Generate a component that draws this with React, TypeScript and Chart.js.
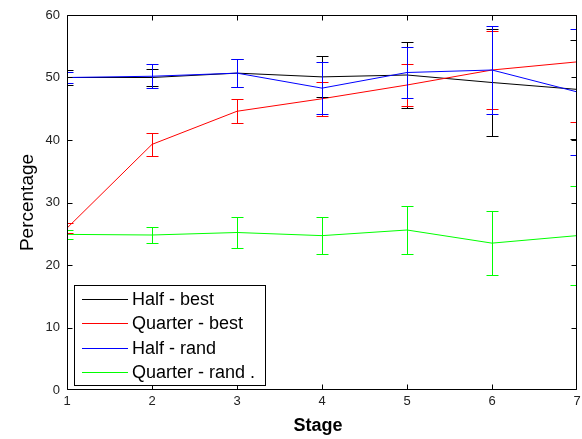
import React, { useEffect, useRef } from 'react';
import { Chart, registerables } from 'chart.js';

Chart.register(...registerables);

// ---- data ----
const stages = [1, 2, 3, 4, 5, 6, 7];
const seriesLabels = ['Half - best', 'Quarter - best', 'Half - rand', 'Quarter - rand .'];
const seriesColors = ['#000000', '#ff0000', '#0000ff', '#00ff00'];

const halfBest = [50.0, 50.0, 50.7, 50.1, 50.4, 49.2, 48.1];
const halfBestErr = [1.2, 1.4, 2.3, 3.3, 5.3, 8.5, 7.9];

const quarterBest = [25.9, 39.3, 44.6, 46.6, 48.8, 51.2, 52.5];
const quarterBestErr = [0.8, 1.8, 1.9, 2.7, 3.3, 6.2, 9.6];

const halfRand = [50.0, 50.2, 50.7, 48.3, 50.8, 51.2, 47.7];
const halfRandErr = [0.9, 1.9, 2.3, 4.2, 4.1, 7.1, 10.1];

const quarterRand = [24.9, 24.8, 25.2, 24.7, 25.6, 23.5, 24.7];
const quarterRandErr = [0.7, 1.35, 2.45, 2.95, 3.8, 5.1, 7.9];

const yTicks = [0, 10, 20, 30, 40, 50, 60];
const xTicks = stages;
const xTitle = 'Stage';
const yTitle = 'Percentage';

const FONT = '"Liberation Sans", Arial, Helvetica, sans-serif';

const seriesValues = [halfBest, quarterBest, halfRand, quarterRand];
const seriesErrors = [halfBestErr, quarterBestErr, halfRandErr, quarterRandErr];

const errorBarPlugin = {
  id: 'errorBars',
  afterDatasetsDraw(chart: any) {
    const { ctx, chartArea } = chart;
    const xs = chart.scales.x;
    const ys = chart.scales.y;
    ctx.save();
    ctx.beginPath();
    ctx.rect(chartArea.left, chartArea.top, chartArea.right - chartArea.left, chartArea.bottom - chartArea.top);
    ctx.clip();
    ctx.lineWidth = 1;
    // draw in series order so later series sit on top
    chart.data.datasets.forEach((ds: any) => {
      const errs: number[] = ds.errors;
      if (!errs) return;
      ctx.strokeStyle = ds.borderColor;
      ds.data.forEach((p: any, i: number) => {
        let x = Math.round(xs.getPixelForValue(p.x)) + 0.5;
        if (x > chartArea.right) x = chartArea.right - 0.5;
        const yt = Math.round(ys.getPixelForValue(p.y + errs[i])) + 0.5;
        const yb = Math.round(ys.getPixelForValue(p.y - errs[i])) + 0.5;
        const hw = 6;
        ctx.beginPath();
        ctx.moveTo(x, yt);
        ctx.lineTo(x, yb);
        ctx.moveTo(x - hw, yt);
        ctx.lineTo(x + hw, yt);
        ctx.moveTo(x - hw, yb);
        ctx.lineTo(x + hw, yb);
        ctx.stroke();
      });
    });
    ctx.restore();
  },
};

const framePlugin = {
  id: 'frame',
  afterDraw(chart: any) {
    const { ctx, chartArea } = chart;
    const { left, right, top, bottom } = chartArea;
    const xs = chart.scales.x;
    const ys = chart.scales.y;
    ctx.save();
    ctx.strokeStyle = '#000';
    ctx.lineWidth = 1;
    const L = Math.round(left) + 0.5;
    const R = Math.round(right) - 0.5;
    const T = Math.round(top) + 0.5;
    const B = Math.round(bottom) - 0.5;
    ctx.beginPath();
    ctx.rect(L, T, R - L, B - T);
    const tl = 5;
    xTicks.forEach((v) => {
      let x = Math.round(xs.getPixelForValue(v)) + 0.5;
      if (x > R) x = R;
      ctx.moveTo(x, B);
      ctx.lineTo(x, B - tl);
      ctx.moveTo(x, T);
      ctx.lineTo(x, T + tl);
    });
    yTicks.forEach((v) => {
      let y = Math.round(ys.getPixelForValue(v)) + 0.5;
      if (y > B) y = B;
      ctx.moveTo(L, y);
      ctx.lineTo(L + tl, y);
      ctx.moveTo(R, y);
      ctx.lineTo(R - tl, y);
    });
    ctx.stroke();

    // legend
    const lx = left + 7;
    const ly = bottom - 105;
    const lw = 191;
    const lh = 100;
    ctx.fillStyle = '#fff';
    ctx.fillRect(lx, ly, lw, lh);
    ctx.strokeStyle = '#000';
    ctx.strokeRect(Math.round(lx) + 0.5, Math.round(ly) + 0.5, lw, lh);
    ctx.font = `18px ${FONT}`;
    ctx.textBaseline = 'middle';
    ctx.textAlign = 'left';
    seriesLabels.forEach((lab, i) => {
      const y = Math.round(ly + 14 + i * 24.4) + 0.5;
      ctx.strokeStyle = seriesColors[i];
      ctx.beginPath();
      ctx.moveTo(lx + 8, y);
      ctx.lineTo(lx + 54, y);
      ctx.stroke();
      ctx.fillStyle = '#000';
      ctx.fillText(lab, lx + 58, y + 1);
    });

    // axis titles
    ctx.fillStyle = '#000';
    ctx.font = `bold 18px ${FONT}`;
    ctx.textAlign = 'center';
    ctx.textBaseline = 'alphabetic';
    ctx.fillText(xTitle, (left + right) / 2 - 4, 431);
    ctx.font = `19px ${FONT}`;
    ctx.save();
    ctx.translate(33, (top + bottom) / 2);
    ctx.rotate(-Math.PI / 2);
    ctx.fillText(yTitle, 0, 0);
    ctx.restore();
    ctx.restore();
  },
};

export default function App() {
  const ref = useRef<HTMLCanvasElement | null>(null);
  useEffect(() => {
    document.body.style.margin = '0';
    const canvas = ref.current;
    if (!canvas) return;
    const datasets = seriesLabels.map((label, i) => ({
      label,
      data: stages.map((s, j) => ({ x: s, y: seriesValues[i][j] })),
      errors: seriesErrors[i],
      borderColor: seriesColors[i],
      backgroundColor: seriesColors[i],
      borderWidth: 1,
      pointRadius: 0,
      tension: 0,
      fill: false,
      order: 4 - i,
    }));
    const chart = new Chart(canvas, {
      type: 'line',
      data: { datasets } as any,
      options: {
        animation: false,
        responsive: false,
        maintainAspectRatio: false,
        layout: { padding: { top: 15, right: 5, left: 0, bottom: 0 } },
        plugins: {
          legend: { display: false },
          tooltip: { enabled: false },
        },
        scales: {
          x: {
            type: 'linear',
            min: 1,
            max: 7,
            afterBuildTicks: (s: any) => {
              s.ticks = xTicks.map((v) => ({ value: v }));
            },
            afterFit: (s: any) => {
              s.height = 49;
              s.paddingLeft = 0;
              s.paddingRight = 0;
            },
            grid: { display: false, drawTicks: false },
            border: { display: false },
            ticks: {
              padding: 4,
              color: '#222',
              font: { family: FONT, size: 13 },
              maxRotation: 0,
              autoSkip: false,
            },
          },
          y: {
            type: 'linear',
            min: 0,
            max: 60,
            afterBuildTicks: (s: any) => {
              s.ticks = yTicks.map((v) => ({ value: v }));
            },
            afterFit: (s: any) => {
              s.width = 67;
              s.paddingTop = 0;
              s.paddingBottom = 0;
            },
            grid: { display: false, drawTicks: false },
            border: { display: false },
            ticks: {
              padding: 7,
              color: '#222',
              font: { family: FONT, size: 13 },
            },
          },
        },
      } as any,
      plugins: [errorBarPlugin, framePlugin],
    });
    return () => chart.destroy();
  }, []);
  return (
    <div style={{ position: 'fixed', left: 0, top: 0, width: 582, height: 439, background: '#fff' }}>
      <canvas ref={ref} width={582} height={439} style={{ display: 'block' }} />
    </div>
  );
}
